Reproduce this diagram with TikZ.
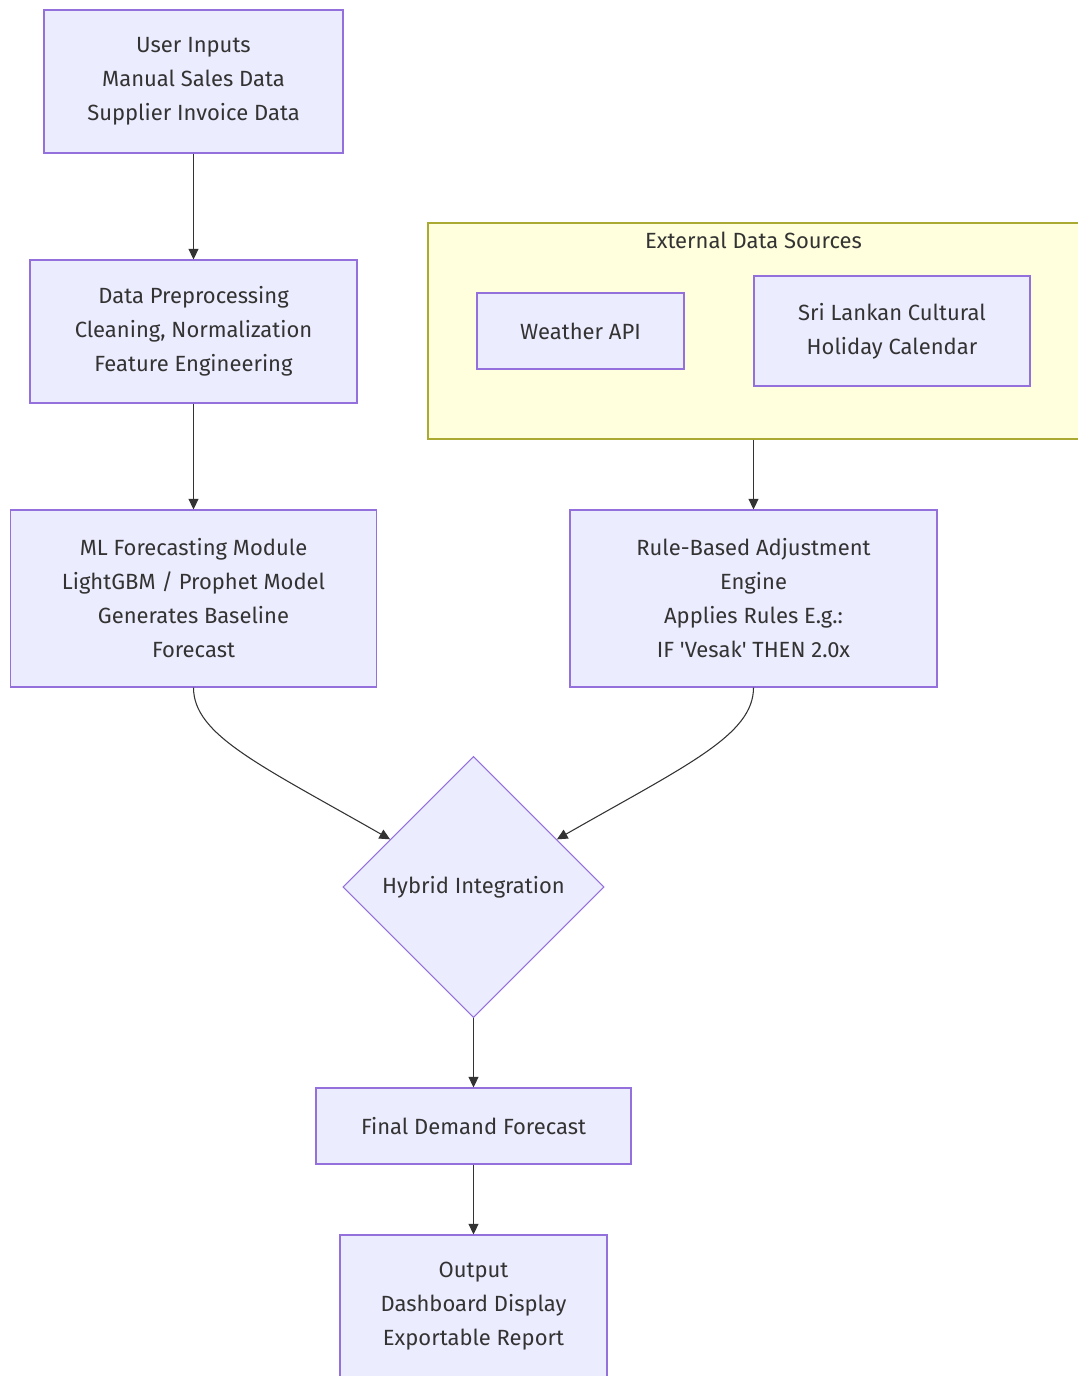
\documentclass[tikz,border=0pt]{standalone}
\usepackage{fontspec}
\setmainfont{Fira Sans}
\usepackage{tikz}
\usetikzlibrary{arrows.meta,shapes.geometric}

\definecolor{nodefill}{HTML}{ECECFF}
\definecolor{nodeline}{HTML}{9370DB}
\definecolor{groupfill}{HTML}{FFFFDE}
\definecolor{groupline}{HTML}{AAAA33}
\definecolor{ink}{HTML}{333333}

\begin{document}
\begin{tikzpicture}[
  x=0.75pt, y=-0.75pt,
  procbox/.style={draw=nodeline, fill=nodefill, line width=0.8pt, align=center, inner sep=0pt, text=ink, font=\fontsize{16.5}{25.5}\selectfont},
  boxsize/.style 2 args={minimum width=#1*0.75pt, minimum height=#2*0.75pt},
  decision/.style={procbox, diamond, aspect=1, minimum width=195.75pt, minimum height=195.75pt},
  groupbox/.style={draw=groupline, fill=groupfill, line width=0.8pt, inner sep=0pt},
  grouptitle/.style={text=ink, font=\fontsize{16.5}{20}\selectfont},
  arrow/.style={-{Triangle[length=8pt,width=7.5pt]}, line width=0.8pt, draw=ink}
]
\path[use as bounding box, fill=white] (0,0) rectangle (1077,1376);

\node[procbox, boxsize={299}{143}] (inputs) at (193.5,81.5) {User Inputs\\Manual Sales Data\\Supplier Invoice Data};
\node[procbox, boxsize={327}{143}] (prep) at (193.5,331.5) {Data Preprocessing\\Cleaning, Normalization\\Feature Engineering};
\node[procbox, boxsize={366}{177}] (ml) at (193.5,598.5) {ML Forecasting Module\\LightGBM / Prophet Model\\Generates Baseline\\Forecast};

% external sources group
\node[groupbox, boxsize={651}{216}] (ext) at (753.5,331) {};
\node[grouptitle] (exttitle) at (753.5,240) {External Data Sources};
\node[procbox, boxsize={207}{76}] (weather) at (580.5,331) {Weather API};
\node[procbox, boxsize={276}{110}] (holiday) at (892,331) {Sri Lankan Cultural\\Holiday Calendar};

\node[procbox, boxsize={367}{177}] (rules) at (753.5,598.5) {Rule-Based Adjustment\\Engine\\Applies Rules E.g.:\\IF {\textquotesingle}Vesak{\textquotesingle} THEN 2.0x};
\node[decision] (hybrid) at (473.5,887) {Hybrid Integration};
\node[procbox, boxsize={315}{76}] (final) at (473.5,1126) {Final Demand Forecast};
\node[procbox, boxsize={267}{143}] (output) at (473.5,1306.5) {Output\\Dashboard Display\\Exportable Report};

\foreach \a/\b in {inputs/prep,prep/ml,ext/rules,hybrid/final,final/output}{\draw[arrow] (\a.south) -- (\b.north);}
\draw[arrow] (ml.south) .. controls (193.5,735) and (260,765) .. (hybrid);
\draw[arrow] (rules.south) .. controls (753.5,735) and (687,765) .. (hybrid);
\end{tikzpicture}
\end{document}
